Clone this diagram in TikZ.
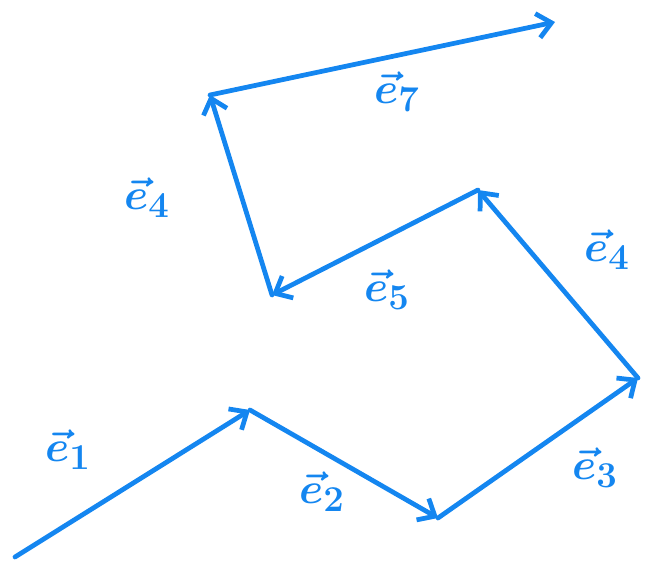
\documentclass[tikz,border=0pt]{standalone}
\usetikzlibrary{arrows.meta}
\definecolor{penblue}{RGB}{20,134,240}
\tikzset{
    vecarrow/.style={penblue,line width=2.7pt,line cap=round,line join=round,
        -{Straight Barb[length=8pt,width=14pt,line width=2.7pt]}},
    veclabel/.style={penblue,font=\Huge\boldmath}
}
\begin{document}
\begin{tikzpicture}[x=0.02cm,y=-0.02cm]
        \useasboundingbox (0,0) rectangle (647,566);
        % tips of the chain
        \coordinate (p0) at (15,557);
        \coordinate (p1) at (250,410);
        \coordinate (p2) at (438,518);
        \coordinate (p3) at (638,378);
        \coordinate (p4) at (478,190);
        \coordinate (p5) at (272,295);
        \coordinate (p6) at (210,95);
        \coordinate (p7) at (555,22);
        % vectors
        \draw[vecarrow] (p0) -- (p1);
        \draw[vecarrow] (p1) -- (p2);
        \draw[vecarrow] (p2) -- (p3);
        \draw[vecarrow] (p3) -- (p4);
        \draw[vecarrow] (p4) -- (p5);
        \draw[vecarrow] (p5) -- (p6);
        \draw[vecarrow] (p6) -- (p7);
        % labels
        \node[veclabel] (l1) at (68,450) {$\vec{e}_1$};
        \node[veclabel] (l2) at (322,492) {$\vec{e}_2$};
        \node[veclabel] (l3) at (595,468) {$\vec{e}_3$};
        \node[veclabel] (l4) at (607,250) {$\vec{e}_4$};
        \node[veclabel] (l5) at (387,290) {$\vec{e}_5$};
        \node[veclabel] (l6) at (147,198) {$\vec{e}_4$};
        \node[veclabel] (l7) at (397,92) {$\vec{e}_7$};
    \end{tikzpicture}
\end{document}
